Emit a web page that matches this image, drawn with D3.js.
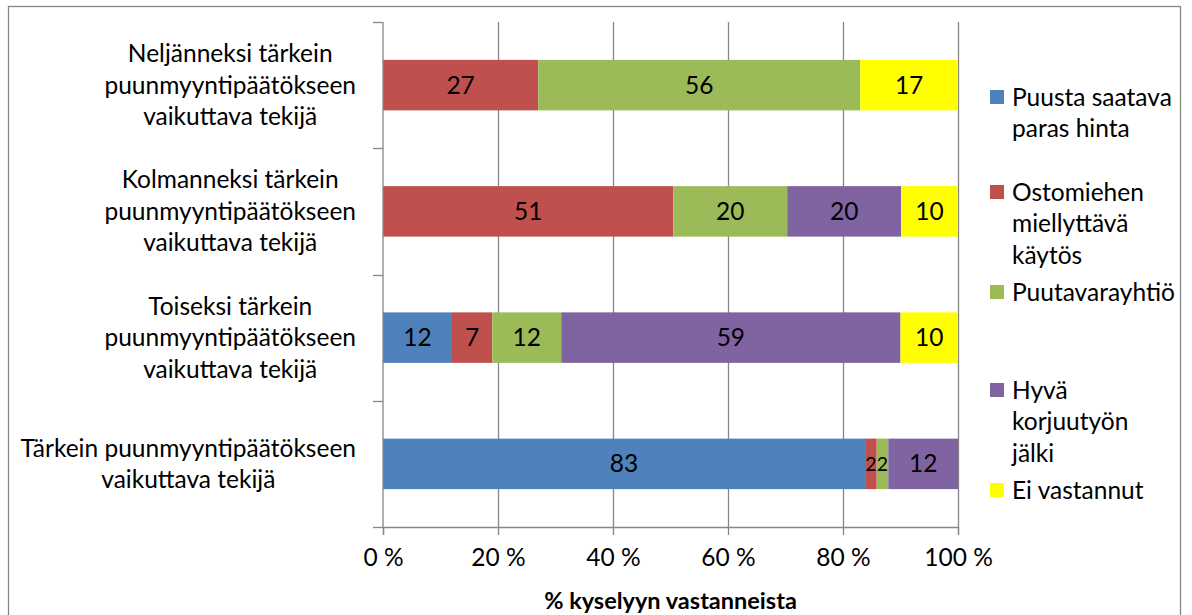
<!DOCTYPE html>
<html>
<head>
<meta charset="utf-8">
<script src="https://cdn.jsdelivr.net/npm/d3@7"></script>
<style>
  body { margin: 0; background: #fff; }
  text { font-family: Lato, "Open Sans", sans-serif; fill: #000; }
</style>
</head>
<body>
<div id="chart"></div>
<script>
// categories top -> bottom
var categories = [
  "Neljänneksi tärkein|puunmyyntipäätökseen|vaikuttava tekijä",
  "Kolmanneksi tärkein|puunmyyntipäätökseen|vaikuttava tekijä",
  "Toiseksi tärkein|puunmyyntipäätökseen|vaikuttava tekijä",
  "Tärkein puunmyyntipäätökseen|vaikuttava tekijä"
];
var seriesNames = ["Puusta saatava paras hinta", "Ostomiehen miellyttävä käytös", "Puutavarayhtiö", "Hyvä korjuutyön jälki", "Ei vastannut"];
var legendLines = [
  ["Puusta saatava", "paras hinta"],
  ["Ostomiehen", "miellyttävä", "käytös"],
  ["Puutavarayhtiö"],
  ["Hyvä", "korjuutyön", "jälki"],
  ["Ei vastannut"]
];
var colors = ["#4F81BD", "#C0504D", "#9BBB59", "#8064A2", "#FFFF00"];

var hinta     = [0, 0, 12, 83];
var ostomies  = [27, 51, 7, 2];
var yhtio     = [56, 20, 12, 2];
var korjuu    = [0, 20, 59, 12];
var eiVast    = [17, 10, 10, 0];
var xTicks = [0, 0.2, 0.4, 0.6, 0.8, 1];

var W = 1192, H = 615;
var plot = {left: 383, right: 958, top: 22, bottom: 527};
var fs = "24.5px";

var svg = d3.select("#chart").append("svg")
    .attr("width", W)
    .attr("height", H);

// outer border
svg.append("rect")
    .attr("x", 8.5).attr("y", 6.5)
    .attr("width", 1172).attr("height", 640)
    .attr("fill", "none")
    .attr("stroke", "#868686")
    .attr("stroke-width", 1.3);

var rows = categories.map(function(c, i) {
  return {cat: c, s0: hinta[i], s1: ostomies[i], s2: yhtio[i], s3: korjuu[i], s4: eiVast[i]};
});
var keys = ["s0", "s1", "s2", "s3", "s4"];
var stack = d3.stack().keys(keys).offset(d3.stackOffsetExpand);
var layers = stack(rows);

var x = d3.scaleLinear().domain([0, 1]).range([plot.left, plot.right]);
var y = d3.scaleBand().domain(categories).range([plot.top, plot.bottom])
    .paddingInner(0.6).paddingOuter(0.3);

// gridlines
svg.append("g")
  .selectAll("line")
  .data(xTicks.slice(1))
  .enter().append("line")
    .attr("x1", function(d) { return Math.round(x(d)) + 0.5; })
    .attr("x2", function(d) { return Math.round(x(d)) + 0.5; })
    .attr("y1", plot.top)
    .attr("y2", plot.bottom)
    .attr("stroke", "#868686")
    .attr("stroke-width", 1.3);

// bars
var gLayers = svg.append("g")
  .selectAll("g")
  .data(layers)
  .enter().append("g")
    .attr("fill", function(d, i) { return colors[i]; });

gLayers.selectAll("rect")
  .data(function(d) { return d; })
  .enter().append("rect")
    .attr("x", function(d) { return x(d[0]); })
    .attr("width", function(d) { return x(d[1]) - x(d[0]); })
    .attr("y", function(d) { return y(d.data.cat); })
    .attr("height", y.bandwidth());

// value labels (narrow segments get a slightly smaller font so they don't collide)
gLayers.each(function(layer) {
  var key = layer.key;
  d3.select(this).selectAll("text")
    .data(layer.filter(function(d) { return d.data[key] > 0; }))
    .enter().append("text")
      .attr("x", function(d) { return (x(d[0]) + x(d[1])) / 2; })
      .attr("y", function(d) { return y(d.data.cat) + y.bandwidth() / 2; })
      .attr("dy", "0.35em")
      .attr("text-anchor", "middle")
      .style("font-size", function(d) { return (x(d[1]) - x(d[0]) < 16) ? "19.5px" : fs; })
      .text(function(d) { return d.data[key]; });
});

// x axis
var xAxis = d3.axisBottom(x)
    .tickValues(xTicks)
    .tickSize(8)
    .tickPadding(14)
    .tickFormat(function(d) { return Math.round(d * 100) + " %"; });

var gx = svg.append("g")
    .attr("transform", "translate(0," + plot.bottom + ")")
    .call(xAxis);
gx.select(".domain").attr("stroke", "#868686").attr("stroke-width", 1.3);
gx.selectAll(".tick line").attr("stroke", "#868686").attr("stroke-width", 1.3);
gx.selectAll(".tick text").style("font-size", fs).attr("fill", "#000");

// y axis line and ticks at category boundaries
var yBounds = d3.range(categories.length + 1).map(function(i) {
  return plot.top + i * (plot.bottom - plot.top) / categories.length;
});
svg.append("line")
    .attr("x1", plot.left).attr("x2", plot.left)
    .attr("y1", plot.top).attr("y2", plot.bottom)
    .attr("stroke", "#868686").attr("stroke-width", 1.3);
svg.append("g")
  .selectAll("line")
  .data(yBounds)
  .enter().append("line")
    .attr("x1", plot.left - 10).attr("x2", plot.left)
    .attr("y1", function(d) { return Math.round(d) + 0.5; })
    .attr("y2", function(d) { return Math.round(d) + 0.5; })
    .attr("stroke", "#868686").attr("stroke-width", 1.3);

// category labels: block right-aligned, lines centered inside
var lineH = 31.5;
categories.forEach(function(c) {
  var lines = c.split("|");
  var cy = y(c) + y.bandwidth() / 2;
  var t = svg.append("g");
  var texts = t.selectAll("text")
    .data(lines)
    .enter().append("text")
      .attr("text-anchor", "middle")
      .attr("y", function(d, i) { return cy + (i - (lines.length - 1) / 2) * lineH; })
      .attr("dy", "0.35em")
      .style("font-size", fs)
      .text(function(d) { return d; });
  var maxW = 0;
  texts.each(function() { maxW = Math.max(maxW, this.getComputedTextLength()); });
  texts.attr("x", 356 - maxW / 2);
});

// axis title
svg.append("text")
    .attr("x", (plot.left + plot.right) / 2)
    .attr("y", 601)
    .attr("dy", "0.35em")
    .attr("text-anchor", "middle")
    .style("font-size", "23.5px")
    .style("font-weight", "bold")
    .text("% kyselyyn vastanneista");

// legend
var legendTop = [97, 192, 292, 390, 490];
var legend = svg.append("g")
  .selectAll("g")
  .data(seriesNames)
  .enter().append("g")
    .attr("transform", function(d, i) { return "translate(990," + legendTop[i] + ")"; });

legend.append("rect")
    .attr("x", 0).attr("y", -7)
    .attr("width", 14).attr("height", 14)
    .attr("fill", function(d, i) { return colors[i]; });

legend.each(function(d, i) {
  d3.select(this).selectAll("text")
    .data(legendLines[i])
    .enter().append("text")
      .attr("x", 22)
      .attr("y", function(l, j) { return j * lineH; })
      .attr("dy", "0.35em")
      .style("font-size", fs)
      .text(function(l) { return l; });
});
</script>
</body>
</html>
